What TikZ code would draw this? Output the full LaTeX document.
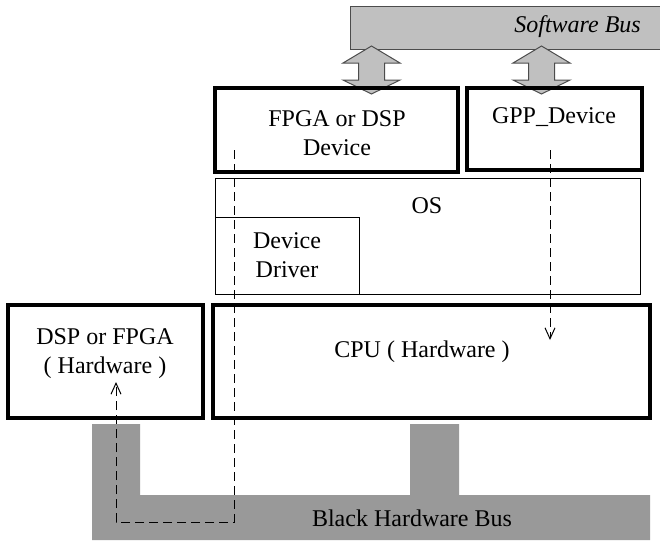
\documentclass[tikz,border=0pt]{standalone}
\usepackage{fontspec}
\setmainfont{Liberation Serif}
\usetikzlibrary{arrows.meta}
\definecolor{swbus}{HTML}{C0C0C0}
\definecolor{hwbus}{HTML}{999999}
\begin{document}
\begin{tikzpicture}[x=1pt,y=-1pt,
  every node/.style={font=\fontsize{24}{29}\selectfont, align=center, inner sep=0pt},
  thickbox/.style={draw, line width=3.4pt},
  thinbox/.style={draw, line width=1pt},
  flow/.style={dashed, dash pattern=on 9pt off 5pt, line width=1pt, -{Straight Barb[length=11pt,width=10pt]}},
  dblarrow/.style={fill=swbus, draw=black!70, line width=1pt}]
\useasboundingbox (0,0) rectangle (660,544);

% software bus
\draw[fill=swbus, draw=black!70, line width=1pt] (350,6) rectangle (662,49);
\node[anchor=east, font=\fontsize{24}{29}\selectfont\itshape] (sbus) at (641,27) {Software Bus};

% double arrows between the software bus and the devices
\foreach \cx in {371.5,541.5}{
  \draw[dblarrow] (\cx,46) -- (\cx+28.5,63) -- (\cx+13,63) -- (\cx+13,80) -- (\cx+28.5,80)
    -- (\cx,94) -- (\cx-28.5,80) -- (\cx-13,80) -- (\cx-13,63) -- (\cx-28.5,63) -- cycle;
}

% hardware bus
\fill[hwbus] (92,424) -- (140,424) -- (140,495) -- (410,495) -- (410,424) -- (459,424)
  -- (459,495) -- (650,495) -- (650,540) -- (92,540) -- cycle;
\node (hbus) at (412,518) {Black Hardware Bus};

% software layers
\draw[thickbox] (215,88) rectangle (458,172);
\node (fpga) at (337,133) {FPGA or DSP\\Device};
\draw[thickbox] (467,88) rectangle (642,170);
\node (gpp) at (554,117) {GPP\_Device};
\draw[thinbox] (215,178) rectangle (640,294);
\node (os) at (427,206) {OS};
\draw[thinbox] (215,217) rectangle (359,294);
\node (drv) at (287,255) {Device\\Driver};

% hardware
\draw[thickbox] (8,305) rectangle (203,418);
\node (dsp) at (105,354) {DSP or FPGA\\( Hardware )};
\draw[thickbox] (213,305) rectangle (650,418);
\node (cpu) at (422,352) {CPU ( Hardware )};

% data paths
\coordinate (a0) at (234,150);
\coordinate (a1) at (234,522);
\coordinate (a2) at (116,522);
\coordinate (a3) at (116,382);
\coordinate (b0) at (550,150);
\coordinate (b1) at (550,340);
\draw[flow] (a0) -- (a1) -- (a2) -- (a3);
\draw[flow] (b0) -- (b1);
\end{tikzpicture}
\end{document}
